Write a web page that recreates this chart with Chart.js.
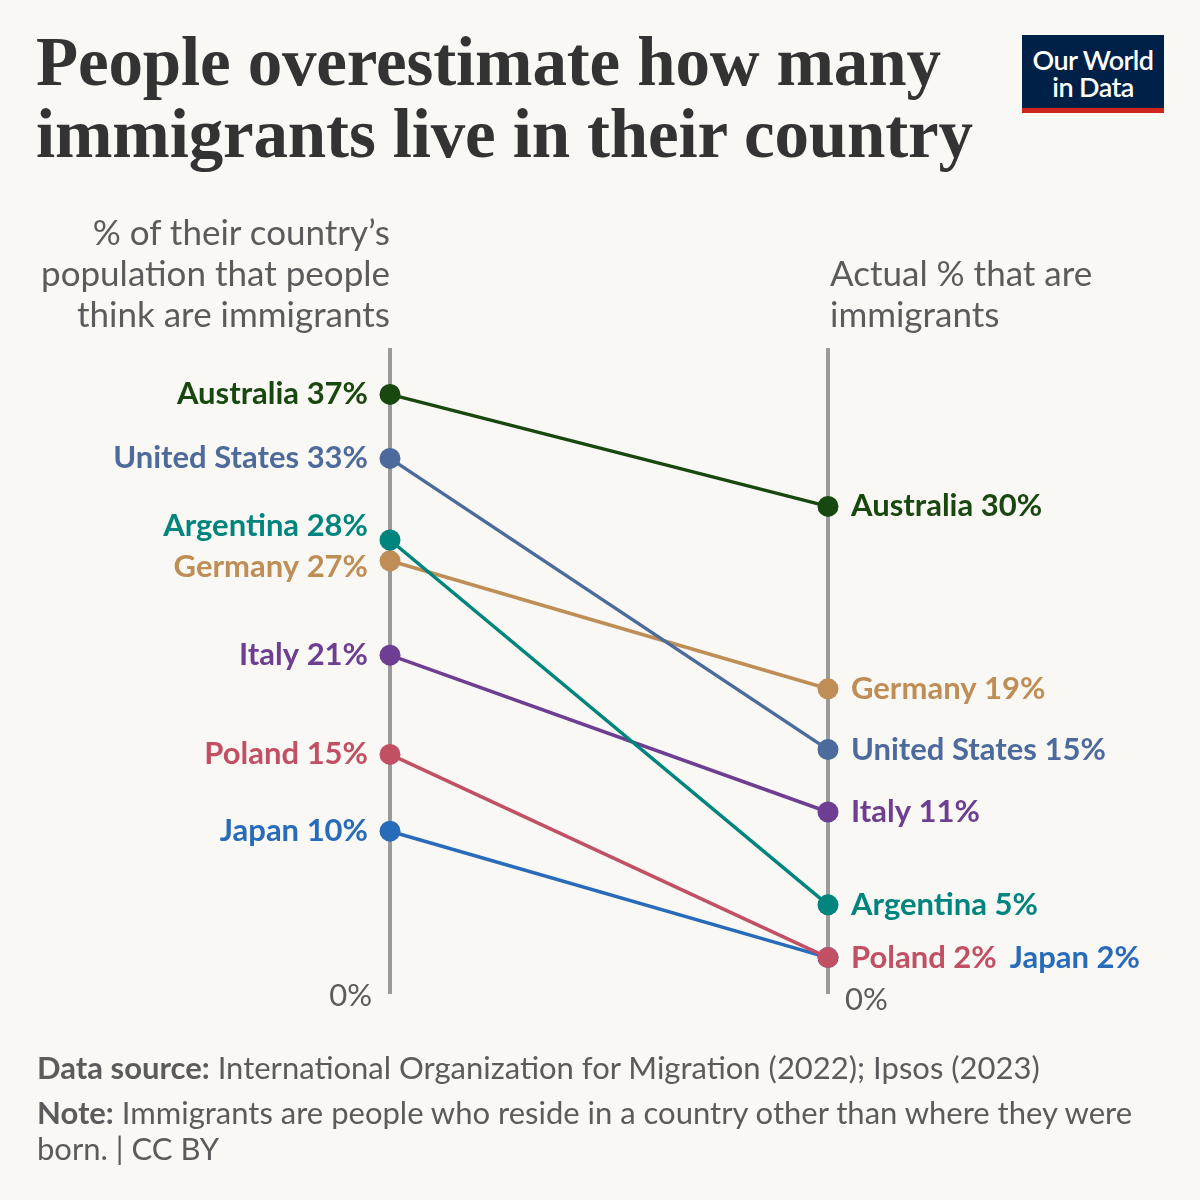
<!DOCTYPE html>
<html>
<head>
<meta charset="utf-8">
<script src="https://cdn.jsdelivr.net/npm/chart.js@4"></script>
<style>
  body { margin: 0; background: #f9f8f4; }
  #wrap { position: relative; width: 1200px; height: 1200px; background: #f9f8f4; font-family: Lato, sans-serif; color: #5b5b5b; }
  canvas { position: absolute; left: 0; top: 0; }
  .title { position: absolute; left: 36px; top: 26px; font-family: "Liberation Serif", serif; font-weight: bold; font-size: 69px; line-height: 72px; color: #333; white-space: nowrap; letter-spacing: -0.15px; }
  .logo { position: absolute; left: 1022px; top: 35px; width: 142px; height: 78px; background: #002147; border-bottom: 5px solid #ce261e; color: #fff; text-align: center; font-size: 27px; line-height: 27px; font-weight: 600; padding-top: 11px; box-sizing: border-box; letter-spacing: -0.6px; }
  .axtitle { position: absolute; font-size: 35px; line-height: 41px; color: #5b5b5b; white-space: nowrap; }
  .foot { position: absolute; left: 37px; font-size: 31px; line-height: 36px; color: #5b5b5b; width: 1120px; }
  .foot b { font-weight: bold; }
</style>
</head>
<body>
<div id="wrap">
  <canvas id="my-chart" width="1200" height="1200"></canvas>
  <div class="title">People overestimate how many<br>immigrants live in their country</div>
  <div class="logo">Our World<br>in Data</div>
  <div class="axtitle" style="right:810px; top:211px; text-align:right;">% of their country’s<br>population that people<br>think are immigrants</div>
  <div class="axtitle" style="left:830px; top:252px;">Actual % that are<br>immigrants</div>
  <div class="foot" style="top:1049px;"><b>Data source:</b> International Organization for Migration (2022); Ipsos (2023)</div>
  <div class="foot" style="top:1094px;"><b>Note:</b> Immigrants are people who reside in a country other than where they were born. | CC BY</div>
</div>
<script>
const countries = ['Australia', 'United States', 'Argentina', 'Germany', 'Italy', 'Poland', 'Japan'];
const perceived = [37.1, 33.1, 28.0, 26.7, 20.8, 14.6, 9.8];
const actual = [30.1, 14.9, 5.2, 18.7, 11.0, 1.9, 1.9];
const perceivedText = ['37%', '33%', '28%', '27%', '21%', '15%', '10%'];
const actualText = ['30%', '15%', '5%', '19%', '11%', '2%', '2%'];
const colors = ['#18470f', '#4c6a9c', '#00847e', '#be8e56', '#6d3e91', '#c15065', '#286bbb'];

// small nudges so crowded labels don't collide
const leftNudge = { 'Argentina': -14, 'Germany': 6 };

const slopeLabels = {
  id: 'slopeLabels',
  beforeDatasetsDraw(chart) {
    const ctx = chart.ctx;
    const x = chart.scales.x, y = chart.scales.y;
    ctx.save();
    ctx.strokeStyle = '#9a9a9a';
    ctx.lineWidth = 4;
    [0, 1].forEach(v => {
      const px = x.getPixelForValue(v);
      ctx.beginPath();
      ctx.moveTo(px, y.getPixelForValue(40));
      ctx.lineTo(px, y.getPixelForValue(0) + 6);
      ctx.stroke();
    });
    ctx.fillStyle = '#5b5b5b';
    ctx.font = '31px Lato';
    ctx.textBaseline = 'middle';
    ctx.textAlign = 'right';
    ctx.fillText('0%', x.getPixelForValue(0) - 18, y.getPixelForValue(0) + 8);
    ctx.textAlign = 'left';
    ctx.fillText('0%', x.getPixelForValue(1) + 17, y.getPixelForValue(0) + 12);
    ctx.restore();
  },
  afterDatasetsDraw(chart) {
    const ctx = chart.ctx;
    const x = chart.scales.x, y = chart.scales.y;
    ctx.save();
    ctx.font = 'bold 31px Lato';
    ctx.textBaseline = 'middle';
    countries.forEach((c, i) => {
      ctx.fillStyle = colors[i];
      ctx.textAlign = 'right';
      ctx.fillText(c + ' ' + perceivedText[i], x.getPixelForValue(0) - 22, y.getPixelForValue(perceived[i]) + (leftNudge[c] || 0));
    });
    ctx.textAlign = 'left';
    countries.forEach((c, i) => {
      ctx.fillStyle = colors[i];
      let lx = x.getPixelForValue(1) + 23;
      if (c === 'Japan') {
        const poland = countries.indexOf('Poland');
        lx += ctx.measureText('Poland ' + actualText[poland]).width + 13;
      }
      ctx.fillText(c + ' ' + actualText[i], lx, y.getPixelForValue(actual[i]));
    });
    ctx.restore();
  }
};

const ctx = document.getElementById('my-chart').getContext('2d');
const chart = new Chart(ctx, {
  type: 'line',
  data: {
    datasets: countries.map((c, i) => ({
      label: c,
      data: [{ x: 0, y: perceived[i] }, { x: 1, y: actual[i] }],
      borderColor: colors[i],
      backgroundColor: colors[i],
      borderWidth: 3.5,
      pointRadius: 10.5,
      pointBorderWidth: 0,
      clip: false,
      order: i
    }))
  },
  options: {
    responsive: false,
    animation: false,
    layout: { padding: { left: 390, right: 372, top: 348, bottom: 212 } },
    plugins: { legend: { display: false }, tooltip: { enabled: false } },
    scales: {
      x: { type: 'linear', min: 0, max: 1, display: false },
      y: { min: 0, max: 40, display: false }
    }
  },
  plugins: [slopeLabels]
});
</script>
</body>
</html>
